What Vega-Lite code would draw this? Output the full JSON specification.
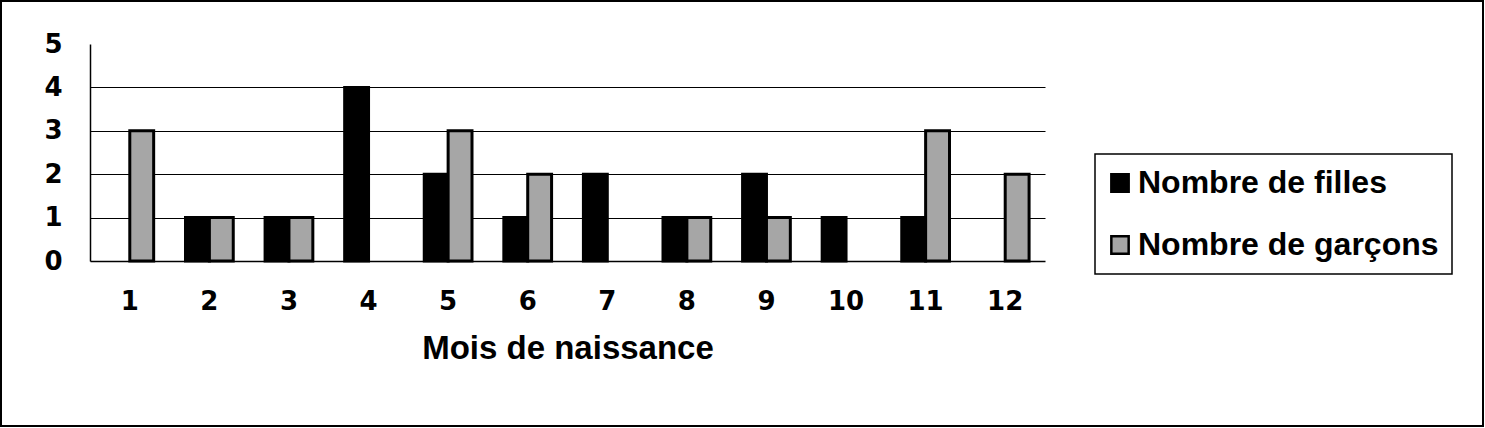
{
  "$schema": "https://vega.github.io/schema/vega-lite/v6.json",
  "autosize": {"type": "none"},
  "padding": 1,
  "width": 1482,
  "height": 425,
  "background": "white",
  "config": {
    "view": {"stroke": "black", "strokeWidth": 2},
    "font": "Liberation Sans"
  },
  "data": {
    "values": [
      {"mois": 1, "serie": "Nombre de garçons", "valeur": 3},
      {"mois": 2, "serie": "Nombre de filles", "valeur": 1},
      {"mois": 2, "serie": "Nombre de garçons", "valeur": 1},
      {"mois": 3, "serie": "Nombre de filles", "valeur": 1},
      {"mois": 3, "serie": "Nombre de garçons", "valeur": 1},
      {"mois": 4, "serie": "Nombre de filles", "valeur": 4},
      {"mois": 5, "serie": "Nombre de filles", "valeur": 2},
      {"mois": 5, "serie": "Nombre de garçons", "valeur": 3},
      {"mois": 6, "serie": "Nombre de filles", "valeur": 1},
      {"mois": 6, "serie": "Nombre de garçons", "valeur": 2},
      {"mois": 7, "serie": "Nombre de filles", "valeur": 2},
      {"mois": 8, "serie": "Nombre de filles", "valeur": 1},
      {"mois": 8, "serie": "Nombre de garçons", "valeur": 1},
      {"mois": 9, "serie": "Nombre de filles", "valeur": 2},
      {"mois": 9, "serie": "Nombre de garçons", "valeur": 1},
      {"mois": 10, "serie": "Nombre de filles", "valeur": 1},
      {"mois": 11, "serie": "Nombre de filles", "valeur": 1},
      {"mois": 11, "serie": "Nombre de garçons", "valeur": 3},
      {"mois": 12, "serie": "Nombre de garçons", "valeur": 2}
    ]
  },
  "mark": {"type": "bar", "stroke": "black", "strokeWidth": 3},
  "encoding": {
    "x": {
      "field": "mois",
      "type": "ordinal",
      "scale": {"domain": [1,2,3,4,5,6,7,8,9,10,11,12], "range": [89, 1044], "paddingInner": 0.4, "paddingOuter": 0.2},
      "axis": {
        "title": "Mois de naissance",
        "labelAngle": 0,
        "offset": -165,
        "ticks": false,
        "domainColor": "black",
        "domainWidth": 1.5,
        "labelFont": "DejaVu Sans",
        "labelFontWeight": "bold",
        "labelFontSize": 26,
        "labelColor": "black",
        "labelPadding": 27,
        "titleFont": "Liberation Sans",
        "titleFontSize": 33,
        "titleFontWeight": "bold",
        "titleColor": "black",
        "titlePadding": 18
      }
    },
    "xOffset": {
      "field": "serie",
      "type": "nominal",
      "scale": {"domain": ["Nombre de filles", "Nombre de garçons"], "paddingInner": 0, "paddingOuter": 0}
    },
    "y": {
      "field": "valeur",
      "type": "quantitative",
      "scale": {"domain": [0, 5], "range": [260, 43], "nice": false},
      "axis": {
        "title": null,
        "offset": -89,
        "values": [0, 1, 2, 3, 4, 5],
        "ticks": false,
        "grid": true,
        "gridColor": "black",
        "gridWidth": 1.2,
        "gridOpacity": {"condition": {"test": "datum.value === 5 || datum.value === 0", "value": 0}, "value": 1},
        "domainColor": "black",
        "domainWidth": 1.5,
        "labelFont": "DejaVu Sans",
        "labelFontWeight": "bold",
        "labelFontSize": 26,
        "labelColor": "black",
        "labelPadding": 28
      }
    },
    "color": {
      "field": "serie",
      "type": "nominal",
      "scale": {"domain": ["Nombre de filles", "Nombre de garçons"], "range": ["#000000", "#a6a6a6"]},
      "legend": {
        "title": null,
        "orient": "none",
        "legendX": 1094,
        "legendY": 153,
        "strokeColor": "black",
        "fillColor": "white",
        "padding": 13,
        "rowPadding": 30,
        "symbolType": "square",
        "symbolSize": 300,
        "symbolOffset": -4,
        "symbolStrokeColor": "black",
        "symbolStrokeWidth": 2.5,
        "labelFont": "Liberation Sans",
        "labelFontWeight": "bold",
        "labelFontSize": 32,
        "labelColor": "black",
        "labelOffset": 2,
        "labelLimit": 500,
        "encode": {"legend": {"update": {"strokeWidth": {"value": 1.5}}}}
      }
    }
  }
}
